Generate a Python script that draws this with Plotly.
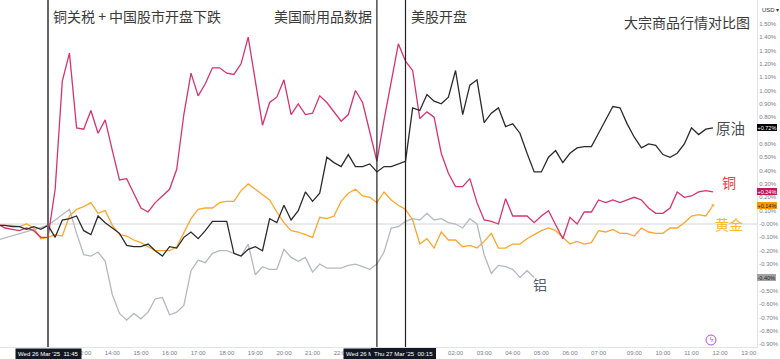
import plotly.graph_objects as go

# ---- data (15-min bars, index 0 = Wed 26 Mar '25 11:45) ----
bars = list(range(-7, 94))

copper = [0.00, -0.03, -0.04, -0.05, -0.03, -0.05, -0.10,
          -0.10, 0.26, 1.07, 1.28, 0.72, 0.71, 0.85, 0.68, 0.78, 0.55,
          0.33, 0.34, 0.23, 0.12, 0.09, 0.16, 0.21, 0.26, 0.41, 0.82,
          1.13, 0.96, 1.05, 1.17, 1.17, 1.13, 1.12, 1.20, 1.40, 1.07,
          0.74, 0.91, 0.95, 1.08, 0.82, 0.90, 0.82, 0.83, 0.96, 0.91,
          0.84, 0.77, 0.82, 1.00, 0.91, 0.70, 0.47, 0.78, 1.07, 1.35,
          1.22, 1.15, 0.79, 0.84, 0.80, 0.53, 0.38, 0.28, 0.28, 0.34,
          0.16, 0.03, 0.02, 0.00, 0.19, 0.06, 0.06, 0.06, 0.01, 0.06,
          0.10, 0.00, -0.11, 0.05, 0.00, 0.09, 0.09, 0.18, 0.16, 0.18,
          0.16, 0.18, 0.20, 0.18, 0.12, 0.08, 0.08, 0.12, 0.24, 0.20,
          0.21, 0.24, 0.25, 0.24]

oil = [-0.01, -0.01, -0.02, -0.02, -0.04, -0.02, -0.04,
       -0.01, -0.10, 0.03, 0.04, 0.06, -0.05, -0.08, 0.06, 0.01, -0.03,
       -0.07, -0.16, -0.17, -0.17, -0.15, -0.20, -0.24, -0.17, -0.18, -0.10,
       -0.06, -0.11, -0.05, 0.02, 0.02, 0.02, -0.22, -0.24, -0.19, -0.17,
       -0.20, 0.04, 0.01, 0.14, 0.03, 0.10, 0.24, 0.17, 0.23, 0.50,
       0.46, 0.43, 0.52, 0.43, 0.43, 0.45, 0.39, 0.43, 0.43, 0.45,
       0.47, 0.87, 0.85, 0.97, 0.92, 0.90, 0.95, 1.15, 0.82, 1.04,
       1.08, 0.76, 0.83, 0.87, 0.73, 0.75, 0.68, 0.53, 0.39, 0.39,
       0.50, 0.55, 0.46, 0.53, 0.57, 0.58, 0.58, 0.68, 0.78, 0.88,
       0.87, 0.75, 0.65, 0.57, 0.60, 0.59, 0.52, 0.50, 0.53, 0.60,
       0.72, 0.67, 0.71, 0.72]

gold = [-0.01, -0.01, -0.01, -0.02, 0.00, -0.03, -0.11,
        -0.10, -0.08, -0.09, 0.06, 0.11, 0.13, 0.16, 0.08, 0.10, -0.01,
        -0.08, -0.09, -0.12, -0.14, -0.17, -0.20, -0.20, -0.20, -0.17, -0.07,
        0.04, 0.11, 0.12, 0.12, 0.16, 0.17, 0.17, 0.25, 0.30, 0.26,
        0.22, 0.18, 0.09, 0.01, -0.05, -0.06, -0.08, -0.10, 0.05, 0.04,
        0.06, 0.17, 0.23, 0.26, 0.21, 0.20, 0.16, 0.24, 0.18, 0.14,
        0.11, 0.03, -0.15, -0.11, -0.18, -0.06, -0.12, -0.12, -0.17, -0.16,
        -0.18, -0.13, -0.07, -0.18, -0.18, -0.15, -0.15, -0.11, -0.08, -0.05,
        -0.03, -0.05, -0.10, -0.15, -0.13, -0.15, -0.14, -0.05, -0.06, -0.04,
        -0.07, -0.07, -0.09, -0.03, -0.06, -0.07, -0.07, -0.03, -0.03, 0.01,
        0.06, 0.07, 0.06, 0.14]

aluminium = [-0.12, None, None, None, None, None, None,
             -0.01, 0.03, 0.07, 0.11, -0.07, -0.23, -0.24, -0.21, -0.28, -0.53,
             -0.67, -0.72, -0.67, -0.71, -0.66, -0.56, -0.55, -0.68, -0.66, -0.61,
             -0.35, -0.27, -0.29, -0.22, -0.20, -0.20, -0.22, -0.24, -0.15, -0.38,
             -0.32, -0.34, -0.34, -0.19, -0.25, -0.28, -0.25, -0.36, -0.30, -0.33,
             -0.33, -0.33, -0.31, -0.30, -0.32, -0.34, -0.30, -0.21, -0.03, -0.02,
             0.02, 0.04, 0.03, 0.08, 0.03, 0.04, 0.01, 0.00, -0.03, 0.04,
             0.00, -0.23, -0.37, -0.31, -0.32, -0.34, -0.40, -0.35, -0.40] + [None] * 25

x_tick_bars = [5, 9, 13, 17, 21, 25, 29, 33, 37, 41,
               57, 61, 65, 69, 73, 77, 82, 86, 90, 94, 98]
x_tick_labels = ["13:00", "14:00", "15:00", "16:00", "17:00", "18:00", "19:00",
                 "20:00", "21:00", "22:00", "02:00", "03:00", "04:00", "05:00",
                 "06:00", "07:00", "09:00", "10:00", "11:00", "12:00", "13:00"]
y_tick_vals = [1.5, 1.4, 1.3, 1.2, 1.1, 1.0, 0.9, 0.8, 0.6, 0.5, 0.4, 0.3, 0.2, 0.1,
               0.0, -0.1, -0.2, -0.3, -0.5, -0.6, -0.7, -0.8, -0.9]
y_tick_text = [("-0.00%" if v == 0 else f"{v:.2f}%") for v in y_tick_vals]

event_bars = [0, 46, 50]
event_texts = ["铜关税 + 中国股市开盘下跌", "美国耐用品数据", "美股开盘"]
event_dates = ["Wed 26 Mar '25  11:45", "Wed 26 Mar '25  23:15", "Thu 27 Mar '25  00:15"]

# ---- figure ----
W, H = 780, 359
ML, MR, MT, MB = 0, 23, 0, 12
PW = W - ML - MR
PH = H - MT - MB

C_COPPER = "#d6336f"
C_OIL = "#2b2b2b"
C_GOLD = "#ffa52c"
C_ALU = "#b5b8bf"

fig = go.Figure()
fig.add_trace(go.Scatter(x=bars, y=aluminium, mode="lines", connectgaps=True,
                         line=dict(color=C_ALU, width=1.3), hoverinfo="skip"))
fig.add_trace(go.Scatter(x=bars, y=gold, mode="lines+markers",
                         line=dict(color=C_GOLD, width=1.3),
                         marker=dict(size=[0] * (len(gold) - 1) + [4], color=C_GOLD),
                         hoverinfo="skip"))
fig.add_trace(go.Scatter(x=bars, y=copper, mode="lines",
                         line=dict(color=C_COPPER, width=1.3), hoverinfo="skip"))
fig.add_trace(go.Scatter(x=bars, y=oil, mode="lines",
                         line=dict(color=C_OIL, width=1.3), hoverinfo="skip"))

shapes = [dict(type="line", xref="paper", x0=0, x1=1, yref="y", y0=0, y1=0,
               line=dict(color="#d1d4dc", width=1), layer="below")]
for k, b in enumerate(event_bars):
    shapes.append(dict(type="line", xref="x", x0=b, x1=b, yref="paper", y0=0, y1=1,
                       line=dict(color="#666666" if k == 0 else "#222222",
                                 width=2 if k == 0 else 1.2)))
# small purple icon near the bottom right (decoration in the reference)
shapes.append(dict(type="circle", xref="paper", yref="paper",
                   x0=(711 - 5) / PW, x1=(711 + 5) / PW,
                   y0=1 - (340 + 5) / PH, y1=1 - (340 - 5) / PH,
                   line=dict(color="#b04fd8", width=1)))

anns = []
cjk = "Noto Sans CJK SC"
top_y = 1 - 16 / PH
anns.append(dict(x=event_bars[0], y=top_y, xref="x", yref="paper", text=event_texts[0],
                 xanchor="left", yanchor="middle", xshift=3, showarrow=False,
                 font=dict(family=cjk, size=14, color="#3a3a3a")))
anns.append(dict(x=event_bars[1], y=top_y, xref="x", yref="paper", text=event_texts[1],
                 xanchor="right", yanchor="middle", xshift=-3, showarrow=False,
                 font=dict(family=cjk, size=14, color="#3a3a3a")))
anns.append(dict(x=event_bars[2], y=top_y, xref="x", yref="paper", text=event_texts[2],
                 xanchor="left", yanchor="middle", xshift=3, showarrow=False,
                 font=dict(family=cjk, size=14, color="#3a3a3a")))
anns.append(dict(x=752 / PW, y=1 - 22 / PH, xref="paper", yref="paper",
                 text="大宗商品行情对比图", xanchor="right", yanchor="middle",
                 showarrow=False, font=dict(family=cjk, size=14, color="#3a3a3a")))
anns.append(dict(x=711 / PW, y=1 - 340 / PH, xref="paper", yref="paper",
                 text="ϟ", xanchor="center", yanchor="middle", showarrow=False,
                 font=dict(family="DejaVu Sans", size=7, color="#b04fd8")))

# series name labels
anns.append(dict(x=93, y=0.72, xref="x", yref="y", text="原油", xanchor="left",
                 yanchor="middle", xshift=1, showarrow=False,
                 font=dict(family=cjk, size=14.5, color="#4a4a4a")))
anns.append(dict(x=95.2, y=0.315, xref="x", yref="y", text="铜", xanchor="center",
                 yanchor="middle", showarrow=False,
                 font=dict(family=cjk, size=14, color="#f23645")))
anns.append(dict(x=95.3, y=0.0, xref="x", yref="y", text="黄金", xanchor="center",
                 yanchor="middle", showarrow=False,
                 font=dict(family=cjk, size=14, color="#f7b928")))
anns.append(dict(x=68.8, y=-0.45, xref="x", yref="y", text="铝", xanchor="center",
                 yanchor="middle", showarrow=False,
                 font=dict(family=cjk, size=14, color="#555c6b")))

# last value boxes on price axis
axf = "Liberation Sans"
for val, bg, fg in [(0.72, "#000000", "#ffffff"), (0.24, "#c2185b", "#ffffff"),
                    (0.14, "#ff9800", "#1a1a1a"), (-0.40, "#a3a3a3", "#1a1a1a")]:
    anns.append(dict(x=1, y=val, xref="paper", yref="y",
                     text=(f"+{val:.2f}%" if val > 0 else f"{val:.2f}%"),
                     xanchor="left", yanchor="middle", xshift=0, showarrow=False,
                     bgcolor=bg, borderpad=0.5, borderwidth=0,
                     font=dict(family=axf, size=5.5, color=fg)))
anns.append(dict(x=1, y=1 - 10 / PH, xref="paper", yref="paper", text="USD ▾",
                 xanchor="left", yanchor="middle", xshift=3, showarrow=False,
                 font=dict(family=axf, size=6, color="#333333")))

# date boxes on time axis
anns.append(dict(x=event_bars[0], y=0, xref="x", yref="paper", text=event_dates[0],
                 xanchor="center", yanchor="top", yshift=-1, showarrow=False,
                 bgcolor="#131722", borderpad=2, font=dict(family=axf, size=6, color="#ffffff")))
anns.append(dict(x=event_bars[1], y=0, xref="x", yref="paper", text=event_dates[1],
                 xanchor="center", yanchor="top", yshift=-1, showarrow=False,
                 bgcolor="#131722", borderpad=2, font=dict(family=axf, size=6, color="#ffffff")))
anns.append(dict(x=event_bars[2], y=0, xref="x", yref="paper", text=event_dates[2],
                 xanchor="right", yanchor="top", yshift=-1, xshift=30, showarrow=False,
                 bgcolor="#131722", borderpad=2, bordercolor="#131722",
                 font=dict(family=axf, size=6, color="#ffffff")))

x_left = -48 / 7.15
x_right = x_left + PW / 7.15
y_bottom = -(PH - 224) / 133.5
y_top = 224 / 133.5

fig.update_layout(
    width=W, height=H,
    margin=dict(l=ML, r=MR, t=MT, b=MB, autoexpand=False),
    paper_bgcolor="#ffffff", plot_bgcolor="#ffffff",
    showlegend=False, hovermode=False,
    shapes=shapes, annotations=anns,
    xaxis=dict(range=[x_left, x_right], showgrid=False, zeroline=False,
               tickmode="array", tickvals=x_tick_bars, ticktext=x_tick_labels,
               ticks="", tickfont=dict(family=axf, size=6, color="#787b86"),
               showline=True, linecolor="#e0e3eb", linewidth=1, automargin=False),
    yaxis=dict(range=[y_bottom, y_top], side="right", showgrid=False, zeroline=False,
               tickmode="array", tickvals=y_tick_vals, ticktext=y_tick_text,
               ticks="", tickfont=dict(family=axf, size=6, color="#787b86"),
               showline=True, linecolor="#e0e3eb", linewidth=1, automargin=False),
)

fig.write_html(
    "out.html",
    config={"displayModeBar": False},
    post_script="document.body.style.margin='0';document.body.style.overflow='hidden';",
)
